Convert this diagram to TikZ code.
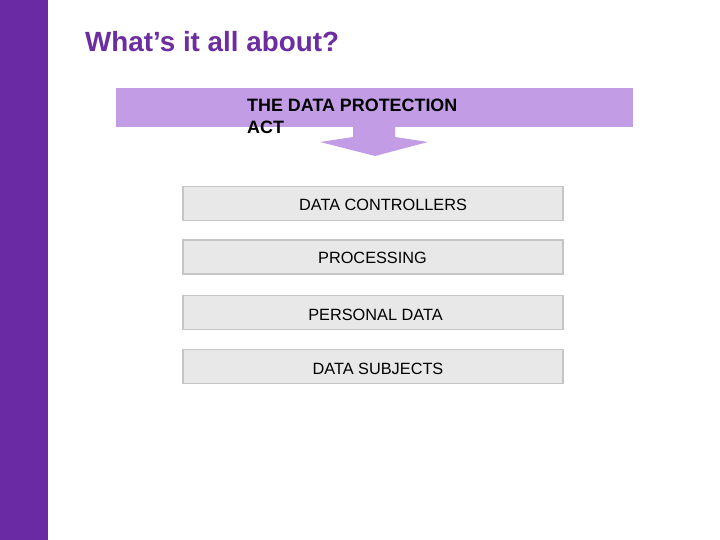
\documentclass[tikz,border=0pt]{standalone}
\usepackage{fontspec}
\setmainfont{Liberation Sans}
\definecolor{barpurple}{HTML}{6A2AA3}
\definecolor{titlepurple}{HTML}{6B2D9F}
\definecolor{bannerlilac}{HTML}{C39CE6}
\definecolor{boxfill}{HTML}{E8E8E8}
\definecolor{boxline}{HTML}{C6C6C6}
\begin{document}
\begin{tikzpicture}[x=1pt,y=-1pt,
  itembox/.style={draw=boxline,line width=1.2pt,fill=boxfill,minimum width=380pt,minimum height=34pt,inner sep=0pt},
  itemtext/.style={font=\fontsize{16.3}{19}\selectfont,anchor=base,inner sep=0pt}]
\useasboundingbox (0,0) rectangle (720,540);
\fill[white] (0,0) rectangle (720,540);
\fill[barpurple] (0,0) rectangle (48,540);
\node[anchor=base west,inner sep=0pt,text=titlepurple,font=\fontsize{27.8}{32}\selectfont\bfseries] (title) at (85,52) {What’s it all about?};
\fill[bannerlilac] (116,88) rectangle (633,127);
\fill[bannerlilac] (353,126) -- (395,126) -- (395,137) -- (428,142) -- (375,156) -- (320,142) -- (353,137) -- cycle;
\node[anchor=base west,inner sep=0pt,align=left,font=\fontsize{17.9}{22}\selectfont\bfseries] (act) at (247,134) {THE DATA PROTECTION\\ACT};
\node[itembox] (b1) at (373,203.5) {};
\node[itembox] (b2) at (373,257) {};
\node[itembox] (b3) at (373,312.5) {};
\node[itembox] (b4) at (373,366.5) {};
\node[itemtext] (t1) at (383,210.5) {DATA CONTROLLERS};
\node[itemtext] (t2) at (372.5,263) {PROCESSING};
\node[itemtext] (t3) at (375.5,320) {PERSONAL DATA};
\node[itemtext] (t4) at (378,374) {DATA SUBJECTS};
\end{tikzpicture}
\end{document}
